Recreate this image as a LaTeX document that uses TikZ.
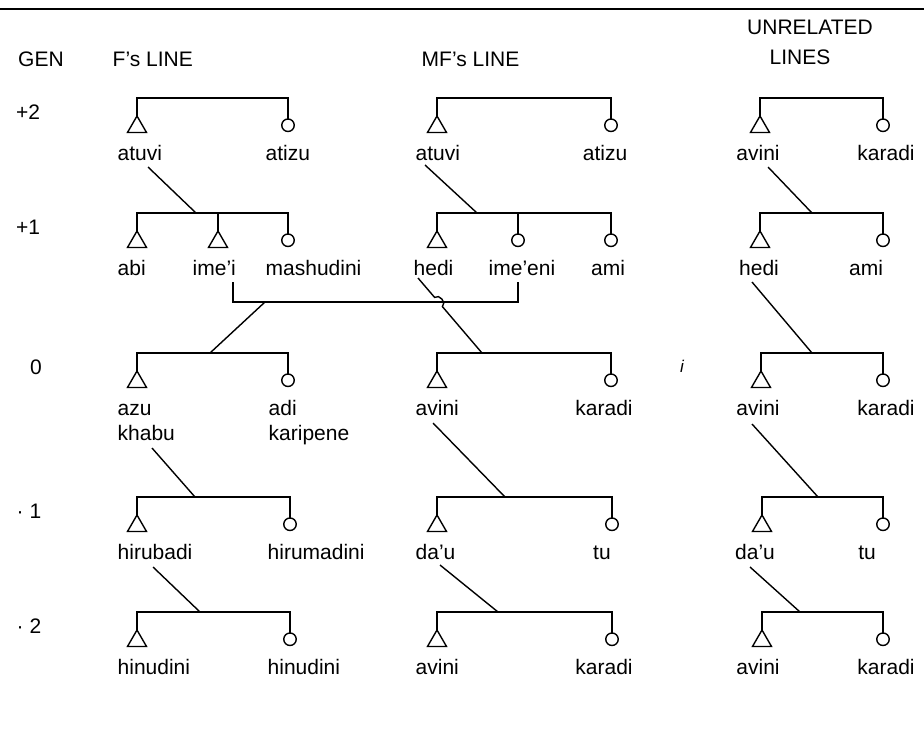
\documentclass[tikz,border=0pt]{standalone}
\usepackage{fontspec}
\setmainfont{Liberation Sans}
\usetikzlibrary{shapes.geometric}
\begin{document}
\begin{tikzpicture}[x=1pt,y=-1pt,line width=1.4pt,
  male/.style={regular polygon, regular polygon sides=3, draw, minimum size=22pt,
    inner sep=0pt, outer sep=0pt, anchor=corner 1},
  female/.style={circle, draw, minimum size=12.5pt, inner sep=0pt, outer sep=0pt, anchor=north},
  txt/.style={font=\fontsize{21}{25}\selectfont, inner sep=0pt},
  lbl/.style={txt, anchor=base west},
  lblc/.style={txt, anchor=base},
  hdr/.style={txt, anchor=base west},
  rule/.style={line width=2.6pt}
]
\useasboundingbox (0,0) rectangle (924,745);

% heading rule and column titles
\coordinate (ruleL) at (0,9);
\coordinate (ruleR) at (924,9);
\draw[rule] (ruleL) -- (ruleR);
\node[txt, anchor=base] (hGen) at (41,66) {GEN};
\node[hdr] (hF) at (112,66) {F’s LINE};
\node[hdr] (hMF) at (421,66) {MF’s LINE};
\node[txt, anchor=base] (hUn) at (810,34) {UNRELATED};
\node[txt, anchor=base] (hLines) at (800,64) {LINES};

% generation numbers
\node[txt, anchor=base] (n2) at (28,119) {+2};
\node[txt, anchor=base] (n1) at (28,234) {+1};
\node[txt, anchor=base] (n0) at (36,374) {0};
\node[txt, anchor=base] (nm1) at (29,518) {· 1};
\node[txt, anchor=base] (nm2) at (29,633) {· 2};

% bracket levels
\coordinate (g2) at (0,98);
\coordinate (g1) at (0,213);
\coordinate (g0) at (0,353);
\coordinate (gm1) at (0,497);
\coordinate (gm2) at (0,612);

% ---------------- F's line ----------------
\node[male] (fA2) at (137,116) {};
\node[female] (fB2) at (288,119) {};
\draw (fA2.corner 1) |- (fB2.north |- g2) -- (fB2.north);
\node[lbl] (fA2l) at (117,160) {atuvi};
\node[lbl] (fB2l) at (265,160) {atizu};

\node[male] (fA1) at (137,231) {};
\node[male] (fC1) at (218,231) {};
\node[female] (fB1) at (288,234) {};
\draw (fA1.corner 1) |- (fB1.north |- g1) -- (fB1.north);
\draw (fC1.corner 1) -- (fC1.corner 1 |- g1);
\node[lbl] (fA1l) at (117,275) {abi};
\node[lbl] (fC1l) at (192,275) {ime’i};
\node[lbl] (fB1l) at (265,275) {mashudini};

\node[male] (fA0) at (137,371) {};
\node[female] (fB0) at (288,374) {};
\draw (fA0.corner 1) |- (fB0.north |- g0) -- (fB0.north);
\node[lbl] (fA0l) at (117,415) {azu};
\node[lbl] (fA0m) at (117,440) {khabu};
\node[lbl] (fB0l) at (268,415) {adi};
\node[lbl] (fB0m) at (268,440) {karipene};

\node[male] (fAm1) at (137,515) {};
\node[female] (fBm1) at (290,518) {};
\draw (fAm1.corner 1) |- (fBm1.north |- gm1) -- (fBm1.north);
\node[lbl] (fAm1l) at (117,559) {hirubadi};
\node[lbl] (fBm1l) at (267,559) {hirumadini};

\node[male] (fAm2) at (137,630) {};
\node[female] (fBm2) at (290,633) {};
\draw (fAm2.corner 1) |- (fBm2.north |- gm2) -- (fBm2.north);
\node[lbl] (fAm2l) at (117,674) {hinudini};
\node[lbl] (fBm2l) at (267,674) {hinudini};

% descent lines, F's line
\coordinate (fd2a) at (148,167);  \coordinate (fd2b) at (196,213);
\coordinate (fd0a) at (152,448);  \coordinate (fd0b) at (195,497);
\coordinate (fdm1a) at (153,567); \coordinate (fdm1b) at (200,612);
\draw (fd2a) -- (fd2b);
\draw (fd0a) -- (fd0b);
\draw (fdm1a) -- (fdm1b);

% ---------------- MF's line ----------------
\node[male] (mA2) at (437,116) {};
\node[female] (mB2) at (611,119) {};
\draw (mA2.corner 1) |- (mB2.north |- g2) -- (mB2.north);
\node[lbl] (mA2l) at (415,160) {atuvi};
\node[lblc] (mB2l) at (605,160) {atizu};

\node[male] (mA1) at (437,231) {};
\node[female] (mC1) at (518,234) {};
\node[female] (mB1) at (611,234) {};
\draw (mA1.corner 1) |- (mB1.north |- g1) -- (mB1.north);
\draw (mC1.north) -- (mC1.north |- g1);
\node[lbl] (mA1l) at (413,275) {hedi};
\node[lbl] (mC1l) at (488,275) {ime’eni};
\node[lblc] (mB1l) at (608,275) {ami};

\node[male] (mA0) at (437,371) {};
\node[female] (mB0) at (611,374) {};
\draw (mA0.corner 1) |- (mB0.north |- g0) -- (mB0.north);
\node[lbl] (mA0l) at (415,415) {avini};
\node[lblc] (mB0l) at (604,415) {karadi};

\node[male] (mAm1) at (437,515) {};
\node[female] (mBm1) at (612,518) {};
\draw (mAm1.corner 1) |- (mBm1.north |- gm1) -- (mBm1.north);
\node[lbl] (mAm1l) at (415,559) {da’u};
\node[lblc] (mBm1l) at (602,559) {tu};

\node[male] (mAm2) at (437,630) {};
\node[female] (mBm2) at (612,633) {};
\draw (mAm2.corner 1) |- (mBm2.north |- gm2) -- (mBm2.north);
\node[lbl] (mAm2l) at (415,674) {avini};
\node[lblc] (mBm2l) at (604,674) {karadi};

% descent lines, MF's line
\coordinate (md2a) at (425,165);  \coordinate (md2b) at (477,213);
\coordinate (md0a) at (433,423);  \coordinate (md0b) at (505,497);
\coordinate (mdm1a) at (440,565); \coordinate (mdm1b) at (498,612);
\draw (md2a) -- (md2b);
\draw (md0a) -- (md0b);
\draw (mdm1a) -- (mdm1b);

% marriage of ime'i and ime'eni, and their son's family below
\coordinate (xL) at (233,282);
\coordinate (xR) at (518,282);
\coordinate (xbar) at (0,302);
\draw (xL) -- (xL |- xbar) -- (xR |- xbar) -- (xR);
\coordinate (xa) at (265,302);
\coordinate (xb) at (210,353);
\draw (xa) -- (xb);

% hedi's line hopping over the marriage bar
\coordinate (hA) at (418,278);
\coordinate (hB) at (482,353);
\coordinate (hopA) at (434.6,297.4);
\coordinate (hopB) at (442.4,306.6);
\draw (hA) -- (hopA) .. controls (439.2,293.5) and (447,302.7) .. (hopB) -- (hB);

% ---------------- unrelated lines ----------------
\node[male] (uA2) at (760,116) {};
\node[female] (uB2) at (883,119) {};
\draw (uA2.corner 1) |- (uB2.north |- g2) -- (uB2.north);
\node[lblc] (uA2l) at (758,160) {avini};
\node[lblc] (uB2l) at (886,160) {karadi};

\node[male] (uA1) at (760,231) {};
\node[female] (uB1) at (883,234) {};
\draw (uA1.corner 1) |- (uB1.north |- g1) -- (uB1.north);
\node[lblc] (uA1l) at (759,275) {hedi};
\node[lblc] (uB1l) at (866,275) {ami};

\node[male] (uA0) at (761,371) {};
\node[female] (uB0) at (883,374) {};
\draw (uA0.corner 1) |- (uB0.north |- g0) -- (uB0.north);
\node[lblc] (uA0l) at (758,415) {avini};
\node[lblc] (uB0l) at (886,415) {karadi};

\node[male] (uAm1) at (762,515) {};
\node[female] (uBm1) at (883,518) {};
\draw (uAm1.corner 1) |- (uBm1.north |- gm1) -- (uBm1.north);
\node[lblc] (uAm1l) at (755,559) {da’u};
\node[lblc] (uBm1l) at (867,559) {tu};

\node[male] (uAm2) at (762,630) {};
\node[female] (uBm2) at (883,633) {};
\draw (uAm2.corner 1) |- (uBm2.north |- gm2) -- (uBm2.north);
\node[lblc] (uAm2l) at (758,674) {avini};
\node[lblc] (uBm2l) at (886,674) {karadi};

% descent lines, unrelated lines
\coordinate (ud2a) at (768,167);  \coordinate (ud2b) at (812,213);
\coordinate (ud1a) at (752,282);  \coordinate (ud1b) at (812,353);
\coordinate (ud0a) at (752,424);  \coordinate (ud0b) at (818,497);
\coordinate (udm1a) at (750,567); \coordinate (udm1b) at (800,612);
\draw (ud2a) -- (ud2b);
\draw (ud1a) -- (ud1b);
\draw (ud0a) -- (ud0b);
\draw (udm1a) -- (udm1b);

% stray mark beside the middle column
\node[txt, font=\fontsize{17}{20}\selectfont\itshape, anchor=base] (mark) at (682,372) {i};
\end{tikzpicture}
\end{document}
